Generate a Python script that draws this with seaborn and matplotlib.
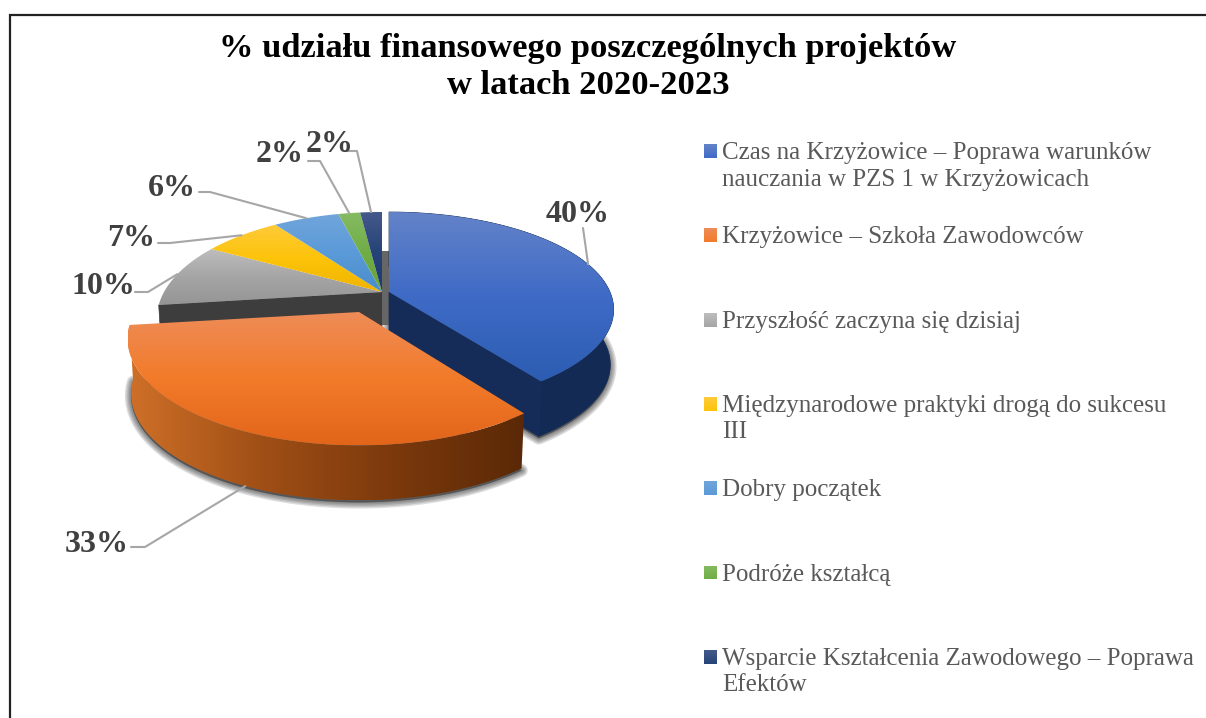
import numpy as np
import matplotlib.pyplot as plt
from matplotlib.patches import Polygon, Rectangle
import seaborn as sns

title = "% udziału finansowego poszczególnych projektów\nw latach 2020-2023"
names = [
    "Czas na Krzyżowice – Poprawa warunków\nnauczania w PZS 1 w Krzyżowicach",
    "Krzyżowice – Szkoła Zawodowców",
    "Przyszłość zaczyna się dzisiaj",
    "Międzynarodowe praktyki drogą do sukcesu\nIII",
    "Dobry początek",
    "Podróże kształcą",
    "Wsparcie Kształcenia Zawodowego – Poprawa\nEfektów",
]
values = [40, 33, 10, 7, 6, 2, 2]

# vertical gradients of the top faces
top_colors = [
    ["#6483c9", "#3f6bc6", "#2c5db2"],
    ["#ee8c58", "#f27b2a", "#e2651a"],
    ["#bdbdbd", "#a5a5a5", "#959595"],
    ["#ffca3a", "#fcc40a", "#efb300"],
    ["#71a5db", "#5a9ad8", "#4a8ccc"],
    ["#86bb62", "#70ad47", "#66a536"],
    ["#44598a", "#264478", "#1c3a70"],
]

# 3d look: apex x, apex y, x radius, y radius, perspective
shape = [
    (389, 292, 221, 94.4, 0.18),
    (359, 312, 224, 100, 0.25),
    (382, 292, 218, 100, 0.25),
    (382, 292, 218, 100, 0.25),
    (382, 292, 218, 100, 0.25),
    (382, 292, 218, 100, 0.25),
    (382, 292, 218, 100, 0.25),
]
depth = 55

# percent labels: text centre, then elbow of the leader line
label_pos = [(578, 215), (97, 544), (103, 287), (131, 238), (172, 188), (280, 154), (330, 145)]
leader_pts = [
    [(583, 228)],
    [(131, 547), (145, 547)],
    [(135, 292), (148, 292)],
    [(158, 243), (170, 243)],
    [(199, 192), (210, 192)],
    [(308, 161), (320, 161)],
    [(345, 151), (357, 151)],
]

sns.set_theme(style="white")
plt.rcParams['font.family'] = ['Liberation Serif', 'DejaVu Serif']

fig, ax = plt.subplots(figsize=(12.06, 7.18), dpi=100)
ax.set_position([0, 0, 1, 1])

# let the pie work out the slice angles, the 3d faces are drawn from them
wedges, _ = ax.pie(values, startangle=90, counterclock=False)
angles = [(90 - w.theta2, 90 - w.theta1) for w in wedges]
for w in wedges:
    w.remove()
ax.set_aspect('auto')
ax.set_xlim(0, 1206)
ax.set_ylim(718, 0)
ax.axis('off')

zo = [2]


def next_z():
    zo[0] += 1
    return zo[0]


def arc(i, n=80, drop=0):
    cx, cy, rx, ry, p = shape[i]
    t = np.radians(np.linspace(angles[i][0], angles[i][1], n))
    s = 1 / (1 + p * np.cos(t))
    k = 0.985 if drop else 1
    return np.column_stack([cx + rx * k * np.sin(t) * s, cy - ry * np.cos(t) * s + drop])


def apex(i, drop=0):
    return np.array([[shape[i][0], shape[i][1] + drop]])


def gradient(pts, colors, horizontal=False):
    patch = Polygon(pts, closed=True, fc='none', ec='none')
    ax.add_patch(patch)
    cmap = sns.blend_palette(colors, 256, as_cmap=True)
    ramp = np.linspace(0, 1, 256)
    ramp = ramp.reshape(1, -1) if horizontal else ramp.reshape(-1, 1)
    x0, y0 = pts.min(axis=0)
    x1, y1 = pts.max(axis=0)
    im = ax.imshow(ramp, extent=(x0, x1, y1, y0), cmap=cmap, aspect='auto',
                   interpolation='bilinear', zorder=next_z())
    im.set_clip_path(patch)


def solid(pts, color):
    ax.add_patch(Polygon(pts, closed=True, fc=color, ec=color, lw=0.5, zorder=next_z()))


def outer_wall(i):
    return np.vstack([arc(i), arc(i, drop=depth)[::-1]])


def cut_wall(i, end):
    edge = arc(i)[end].reshape(1, 2)
    low = arc(i, drop=depth)[end].reshape(1, 2)
    return np.vstack([apex(i), edge, low, apex(i, depth)])


# soft shadow under the two pulled out slices
for i in [0, 1]:
    floor = np.vstack([apex(i, depth), arc(i, drop=depth)]) + [0, 2]
    for lw in [9, 7, 5, 3, 1]:
        ax.add_patch(Polygon(floor, closed=True, fc='#303030', ec='#303030', lw=lw, alpha=0.16,
                             joinstyle='round', zorder=2))

# back group
solid(cut_wall(2, 0), "#3d3d3d")
for i in range(2, 7):
    gradient(np.vstack([apex(i), arc(i)]), top_colors[i])

# inner wall seen in the gap at twelve o'clock
ax.add_patch(Rectangle((382, 251), shape[0][0] - 382, 74, fc="#666666", ec='none', zorder=next_z()))

# blue slice
solid(outer_wall(0), "#132a55")
solid(cut_wall(0, -1), "#152c58")
gradient(np.vstack([apex(0), arc(0)]), top_colors[0])

# orange slice
gradient(outer_wall(1), ["#cf7028", "#a04f16", "#7c390c", "#5a2907"], horizontal=True)
gradient(np.vstack([apex(1), arc(1)]), top_colors[1])

# labels with leader lines
for i, v in enumerate(values):
    mid = arc(i, n=81)[40]
    if i == 1:
        mid = arc(i, n=81, drop=depth)[40]
    line = np.array(leader_pts[i] + [tuple(mid)])
    ax.plot(line[:, 0], line[:, 1], color="#a6a6a6", lw=1.5, zorder=60)
    ax.text(label_pos[i][0], label_pos[i][1], f"{v}%", ha='center', va='center',
            fontsize=23, fontweight='bold', color="#404040", zorder=61)

# legend, one fixed height row per project
for i, name in enumerate(names):
    y = 151 + i * 84.3
    gradient(np.array([[704, y - 7], [717, y - 7], [717, y + 7], [704, y + 7]]), top_colors[i][:2])
    ax.text(722, y - 9, name, ha='left', va='top', fontsize=18, color="#595959",
            linespacing=1.27, zorder=61)

ax.text(588, 67, title, ha='center', va='center', fontsize=24.8, fontweight='bold',
        color="black", linespacing=1.28, zorder=61)

# frame, cut off by the right and bottom edge
ax.plot([9.5, 9.5, 1206], [718, 14.5, 14.5], color="#222222", lw=1.6, solid_joinstyle='miter', zorder=70)

fig.savefig("out.png", dpi=100)
